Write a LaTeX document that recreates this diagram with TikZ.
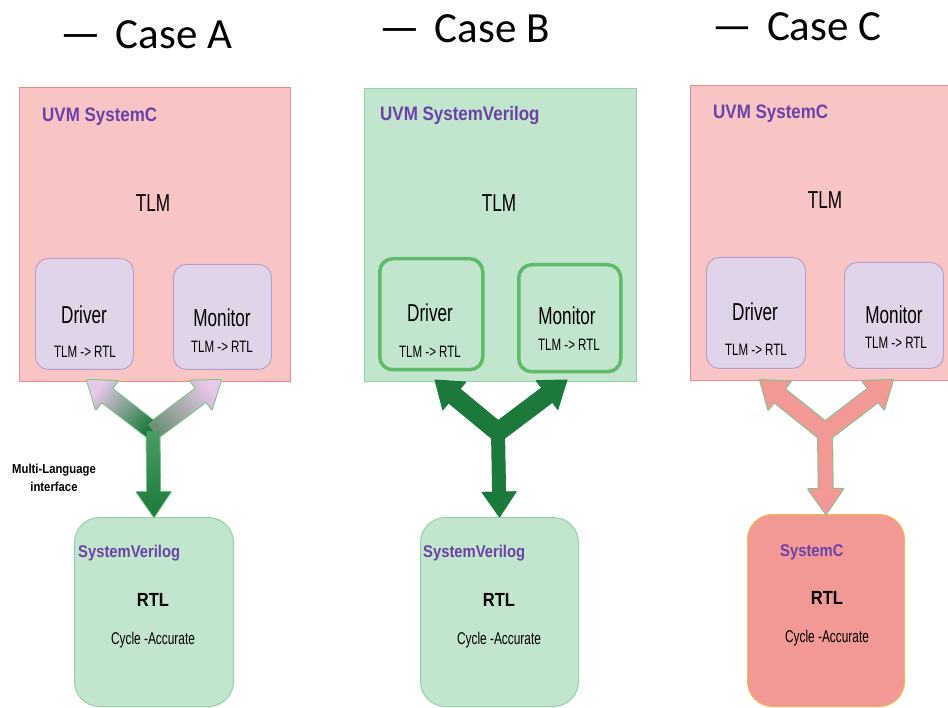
\documentclass[tikz,border=0pt]{standalone}
\usepackage{fontspec}
\setmainfont{Liberation Sans}[FakeStretch=0.7]
\newfontfamily\lblfont{Liberation Sans}[FakeStretch=0.87]
\newfontfamily\casefont{Carlito}
\usetikzlibrary{calc}

\definecolor{pinkfill}{HTML}{F8C4C4}
\definecolor{pinkline}{HTML}{E98B8B}
\definecolor{greenfill}{HTML}{C2E5CD}
\definecolor{greenline}{HTML}{93D3A4}
\definecolor{lavfill}{HTML}{E1D3E8}
\definecolor{lavline}{HTML}{B39DCB}
\definecolor{purpletxt}{HTML}{6A42A8}
\definecolor{drvgreen}{HTML}{5DBB6A}
\definecolor{darkgreen}{HTML}{1B7A3B}
\definecolor{arrowline}{HTML}{7CC48A}
\definecolor{salmon}{HTML}{F29996}
\definecolor{orangeline}{HTML}{F4B650}
\definecolor{lavtip}{HTML}{E8C8E8}
\definecolor{midgreen}{HTML}{2A8A48}
\definecolor{greygreen}{HTML}{6E9278}

% fat block arrow: options, start, tip, shaft half-width, head half-width, head length
\newcommand{\fatarrow}[6]{%
  \coordinate (fa-base) at ($(#3)!#6!(#2)$);
  \path[#1] ($(#2)!#4!90:(#3)$) -- ($(fa-base)!#4!90:(#3)$)
    -- ($(fa-base)!#5!90:(#3)$) -- (#3) -- ($(fa-base)!#5!-90:(#3)$)
    -- ($(fa-base)!#4!-90:(#3)$) -- ($(#2)!#4!-90:(#3)$) -- cycle;}

\tikzset{
  bigbox/.style={anchor=north west, inner sep=0pt, line width=1pt},
  subbox/.style={anchor=north west, inner sep=0pt, rounded corners=13pt,
    line width=0.9pt, fill=lavfill, draw=lavline},
  subboxB/.style={anchor=north west, inner sep=0pt, rounded corners=13pt,
    line width=3.5pt, fill=greenfill, draw=drvgreen},
  rtlbox/.style={anchor=north west, inner sep=0pt, rounded corners=25pt,
    line width=1pt},
  boxtitle/.style={anchor=west, inner sep=0pt, text=purpletxt,
    font=\lblfont\bfseries\fontsize{19.5}{22}\selectfont},
  lowtitle/.style={anchor=west, inner sep=0pt, text=purpletxt,
    font=\lblfont\bfseries\fontsize{17}{20}\selectfont},
  bigtxt/.style={inner sep=0pt, font=\fontsize{24.5}{28}\selectfont},
  smalltxt/.style={inner sep=0pt, font=\fontsize{16.5}{19}\selectfont},
  rtltxt/.style={inner sep=0pt, font=\lblfont\bfseries\fontsize{19}{22}\selectfont},
  cycletxt/.style={inner sep=0pt, font=\fontsize{17}{20}\selectfont},
  casetxt/.style={anchor=base west, inner sep=0pt, font=\casefont\fontsize{43}{48}\selectfont},
  outline/.style={draw=arrowline, line width=2pt, line join=round},
}

\begin{document}
\begin{tikzpicture}[x=1pt, y=-1pt]
\useasboundingbox (0,0) rectangle (948,708);
\clip (0,0) rectangle (948,708);

% headings
\node[casetxt] (caseA) at (60,49) {{\fontsize{45}{50}\selectfont —}\hspace{15pt}Case A};
\node[casetxt] (caseB) at (379,43) {{\fontsize{45}{50}\selectfont —}\hspace{15pt}Case B};
\node[casetxt] (caseC) at (712,41) {{\fontsize{44}{50}\selectfont —}\hspace{15pt}Case C};

% ---------- Case A ----------
\node[bigbox, fill=pinkfill, draw=pinkline, minimum width=271pt, minimum height=294pt] (uvmA) at (19,87) {};
\node[boxtitle] (ttlA) at (42,117) {UVM SystemC};
\node[bigtxt] (tlmA) at (153,203) {TLM};
\node[subbox, minimum width=98pt, minimum height=111pt] (drvA) at (35,258) {};
\node[bigtxt] (drvAt) at (84,315) {Driver};
\node[smalltxt] (drvAs) at (85,352) {TLM -> RTL};
\node[subbox, minimum width=98pt, minimum height=105pt] (monA) at (173,264) {};
\node[bigtxt] (monAt) at (222,318) {Monitor};
\node[smalltxt] (monAs) at (222,347) {TLM -> RTL};

\node[rtlbox, fill=greenfill, draw=greenline, minimum width=159pt, minimum height=189pt] (rtlA) at (74,517) {};
\node[lowtitle] (svA) at (78,553) {SystemVerilog};
\node[rtltxt] (rtlAt) at (153,600) {RTL};
\node[cycletxt] (cycA) at (153,640) {Cycle -Accurate};

\node[align=center, inner sep=0pt, font=\lblfont\bfseries\fontsize{13}{18}\selectfont] (mli) at (54,478) {Multi-Language\\interface};

% ---------- Case B ----------
\node[bigbox, fill=greenfill, draw=greenline, minimum width=272pt, minimum height=293pt] (uvmB) at (364,88) {};
\node[boxtitle] (ttlB) at (380,116) {UVM SystemVerilog};
\node[bigtxt] (tlmB) at (499,203) {TLM};
\node[subboxB, minimum width=103pt, minimum height=111pt] (drvB) at (378,257) {};
\node[bigtxt] (drvBt) at (430,313) {Driver};
\node[smalltxt] (drvBs) at (430,352) {TLM -> RTL};
\node[subboxB, minimum width=102pt, minimum height=107pt] (monB) at (517,263) {};
\node[bigtxt] (monBt) at (567,316) {Monitor};
\node[smalltxt] (monBs) at (569,345) {TLM -> RTL};

\node[rtlbox, fill=greenfill, draw=greenline, minimum width=158pt, minimum height=189pt] (rtlB) at (420,517) {};
\node[lowtitle] (svB) at (423,553) {SystemVerilog};
\node[rtltxt] (rtlBt) at (499,600) {RTL};
\node[cycletxt] (cycB) at (499,640) {Cycle -Accurate};

% ---------- Case C ----------
\node[bigbox, fill=pinkfill, draw=pinkline, minimum width=280pt, minimum height=295pt] (uvmC) at (690,85) {};
\node[boxtitle] (ttlC) at (713,114) {UVM SystemC};
\node[bigtxt] (tlmC) at (825,200) {TLM};
\node[subbox, minimum width=99pt, minimum height=111pt] (drvC) at (706,257) {};
\node[bigtxt] (drvCt) at (755,312) {Driver};
\node[smalltxt] (drvCs) at (756,350) {TLM -> RTL};
\node[subbox, minimum width=99pt, minimum height=106pt] (monC) at (844,262) {};
\node[bigtxt] (monCt) at (894,315) {Monitor};
\node[smalltxt] (monCs) at (896,343) {TLM -> RTL};

\node[rtlbox, fill=salmon, draw=orangeline, minimum width=157pt, minimum height=192pt] (rtlC) at (747,514) {};
\node[lowtitle] (scC) at (780,552) {SystemC};
\node[rtltxt] (rtlCt) at (827,598) {RTL};
\node[cycletxt] (cycC) at (827,638) {Cycle -Accurate};

% ---------- Y-shaped interface arrows ----------
% Case A: outline first, then the shaded bodies on top
\coordinate (jA) at (153,431);
\coordinate (tipA1) at (87,380);
\coordinate (tipA2) at (221,380);
\foreach \t in {tipA1,tipA2}{
  \fatarrow{outline}{jA}{\t}{8.5pt}{18pt}{25pt}
}
\fatarrow{outline}{jA}{rtlA.north}{6.5pt}{17pt}{25pt}
\fatarrow{top color=lavtip, bottom color=darkgreen, shading angle=50}{jA}{tipA1}{8.5pt}{18pt}{25pt}
\fatarrow{top color=lavtip, bottom color=greygreen, shading angle=-50}{jA}{tipA2}{8.5pt}{18pt}{25pt}
\fatarrow{top color=midgreen!85!white, bottom color=darkgreen}{jA}{rtlA.north}{6.5pt}{17pt}{25pt}

% Case B
\coordinate (jB) at (498,432);
\coordinate (tipB1) at (435,380);
\coordinate (tipB2) at (567,380);
\foreach \t in {tipB1,tipB2}{
  \fatarrow{fill=darkgreen, draw=darkgreen, line width=1pt, line join=round}{jB}{\t}{9pt}{18pt}{25pt}
}
\fatarrow{fill=darkgreen, draw=darkgreen, line width=1pt, line join=round}{jB}{rtlB.north}{6.5pt}{17pt}{25pt}

% Case C
\coordinate (jC) at (825,432);
\coordinate (tipC1) at (760,380);
\coordinate (tipC2) at (893,380);
\foreach \t in {tipC1,tipC2}{
  \fatarrow{outline}{jC}{\t}{8.5pt}{18pt}{25pt}
}
\fatarrow{outline}{jC}{rtlC.north}{7pt}{17.5pt}{25pt}
\foreach \t in {tipC1,tipC2}{
  \fatarrow{fill=salmon}{jC}{\t}{8.5pt}{18pt}{25pt}
}
\fatarrow{fill=salmon}{jC}{rtlC.north}{7pt}{17.5pt}{25pt}
\end{tikzpicture}
\end{document}
